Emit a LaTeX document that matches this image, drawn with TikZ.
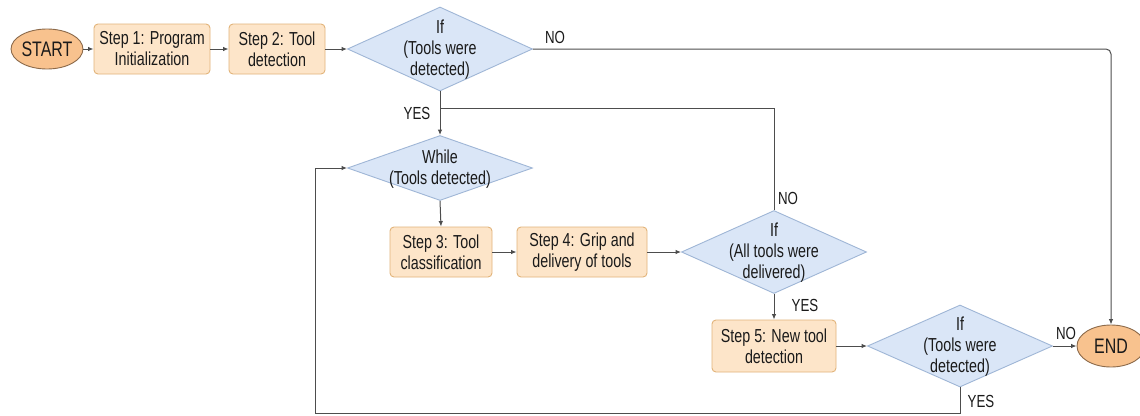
\documentclass[tikz,border=0pt]{standalone}
\usepackage{fontspec}
\setmainfont{Liberation Sans}[FakeStretch=0.76]
\usetikzlibrary{shapes.geometric,arrows.meta}
\definecolor{stepfill}{HTML}{FDE5C9}
\definecolor{stepdraw}{HTML}{E2B47A}
\definecolor{ovalfill}{HTML}{F8C28E}
\definecolor{ovaldraw}{HTML}{8C6A4A}
\definecolor{dfill}{HTML}{DAE6F7}
\definecolor{ddraw}{HTML}{9FB6D6}
\definecolor{linec}{HTML}{4D4D4D}
\definecolor{txt}{HTML}{1A1A1A}
\tikzset{
  stepbox/.style={rectangle, rounded corners=4pt, fill=stepfill, draw=stepdraw, line width=0.9pt,
    minimum height=50pt, inner sep=2pt, align=center, text=txt,
    font=\fontsize{18.8}{21}\selectfont},
  oval/.style={ellipse, fill=ovalfill, draw=ovaldraw, line width=0.9pt, inner sep=0pt,
    minimum width=70pt, minimum height=40pt, text=txt, font=\fontsize{21}{24}\selectfont},
  decis/.style={diamond, fill=dfill, draw=ddraw, line width=0.9pt, inner sep=0pt,
    minimum width=185pt},
  dtext/.style={align=center, text=txt, inner sep=0pt, font=\fontsize{18.8}{21}\selectfont},
  lbl/.style={text=txt, inner sep=0pt, font=\fontsize{17.5}{19}\selectfont},
  conn/.style={draw=linec, line width=1pt},
  arr/.style={conn, -{Latex[length=5.5pt,width=4.5pt]}}
}
\begin{document}
\begin{tikzpicture}[x=1pt,y=-1pt]
\useasboundingbox[fill=white] (0,0) rectangle (1140,415);
% nodes
\node[oval] (start) at (47,49) {START};
\node[stepbox, minimum width=116pt] (s1) at (152,49) {Step 1: Program\\Initialization};
\node[stepbox, minimum width=96pt] (s2) at (277,49) {Step 2: Tool\\detection};
\node[decis, minimum height=84pt] (d1) at (440,49) {};
\node[dtext] (d1t) at (440,50) {If\\(Tools were\\detected)};
\node[decis, minimum height=65pt] (wh) at (440,168) {};
\node[dtext] (wht) at (440,169) {While\\(Tools detected)};
\node[stepbox, minimum width=102pt] (s3) at (441,252) {Step 3: Tool\\classification};
\node[stepbox, minimum width=130pt] (s4) at (582,252) {Step 4: Grip and\\delivery of tools};
\node[decis, minimum height=83pt] (d3) at (774,252) {};
\node[dtext] (d3t) at (774,253) {If\\(All tools were\\delivered)};
\node[stepbox, minimum width=124pt, minimum height=52pt] (s5) at (774,346) {Step 5: New tool\\detection};
\node[decis, minimum height=82pt] (d4) at (960,346) {};
\node[dtext] (d4t) at (960,347) {If\\(Tools were\\detected)};
\node[oval, minimum width=68pt, minimum height=42pt] (endn) at (1111,346) {END};
% helper coordinates
\coordinate (j) at (440,108);
\coordinate (lp) at (315,413);
% connectors
\draw[arr] (start) -- (s1);
\draw[arr] (s1) -- (s2);
\draw[arr] (s2) -- (d1.west);
\draw[arr, rounded corners=5pt] (d1.east) -| (endn.north);
\draw[arr] (d1.south) -- (wh.north);
\draw[conn] (d3.north) |- (j);
\draw[arr] (wh.south) -- (s3.north);
\draw[arr] (s3) -- (s4);
\draw[arr] (s4) -- (d3.west);
\draw[arr] (d3.south) -- (s5.north);
\draw[arr] (s5) -- (d4.west);
\draw[arr] (d4.east) -- (endn.west);
\draw[arr] (d4.south) |- (lp) |- (wh.west);
% labels
\node[lbl] (l1) at (555,37) {NO};
\node[lbl] (l2) at (417,113) {YES};
\node[lbl] (l3) at (788,198) {NO};
\node[lbl] (l4) at (805,305) {YES};
\node[lbl] (l5) at (1066,333) {NO};
\node[lbl] (l6) at (981,401) {YES};
\end{tikzpicture}
\end{document}
